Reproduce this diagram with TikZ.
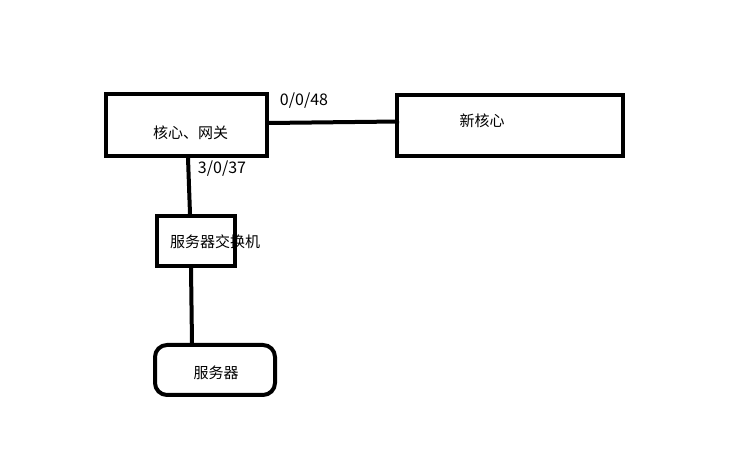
\documentclass[tikz,border=0pt]{standalone}
\usepackage{fontspec}
\setmainfont{Noto Sans CJK SC}
\begin{document}
\begin{tikzpicture}[x=1pt, y=1pt, line width=4pt,
		device/.style={draw, rectangle, inner sep=0pt},
		portlabel/.style={inner sep=0pt, font=\fontsize{16}{18}\selectfont},
		every label/.style={font=\fontsize{15}{17}\selectfont, inner sep=0pt}
		]
	\useasboundingbox (0,0) rectangle (737,462);
	\node [device, minimum width=161pt, minimum height=62pt,
		label={[xshift=4pt, yshift=-8pt]center:核心、网关}] (core) at (186.5,337) {};
	\node [device, minimum width=226pt, minimum height=61pt,
		label={[xshift=-28pt, yshift=4.5pt]center:新核心}] (newcore) at (510,336.5) {};
	\node [device, minimum width=78pt, minimum height=50pt,
		label={[xshift=19pt, yshift=-1pt]center:服务器交换机}] (switch) at (196,221) {};
	\node [device, rounded corners=12pt, minimum width=120pt, minimum height=50pt,
		label={[xshift=1pt, yshift=-3pt]center:服务器}] (server) at (215,92) {};
	\node [portlabel] (p48) at (304,361) {0/0/48};
	\node [portlabel] (p37) at (222,293) {3/0/37};
	\draw ([yshift=2pt]core.east) -- ([xshift=4pt, yshift=4pt]newcore.west);
	\draw ([xshift=1.5pt]core.south) -- ([xshift=-6pt]switch.north);
	\draw ([xshift=-5pt]switch.south) -- ([xshift=-23pt]server.north);
\end{tikzpicture}
\end{document}
